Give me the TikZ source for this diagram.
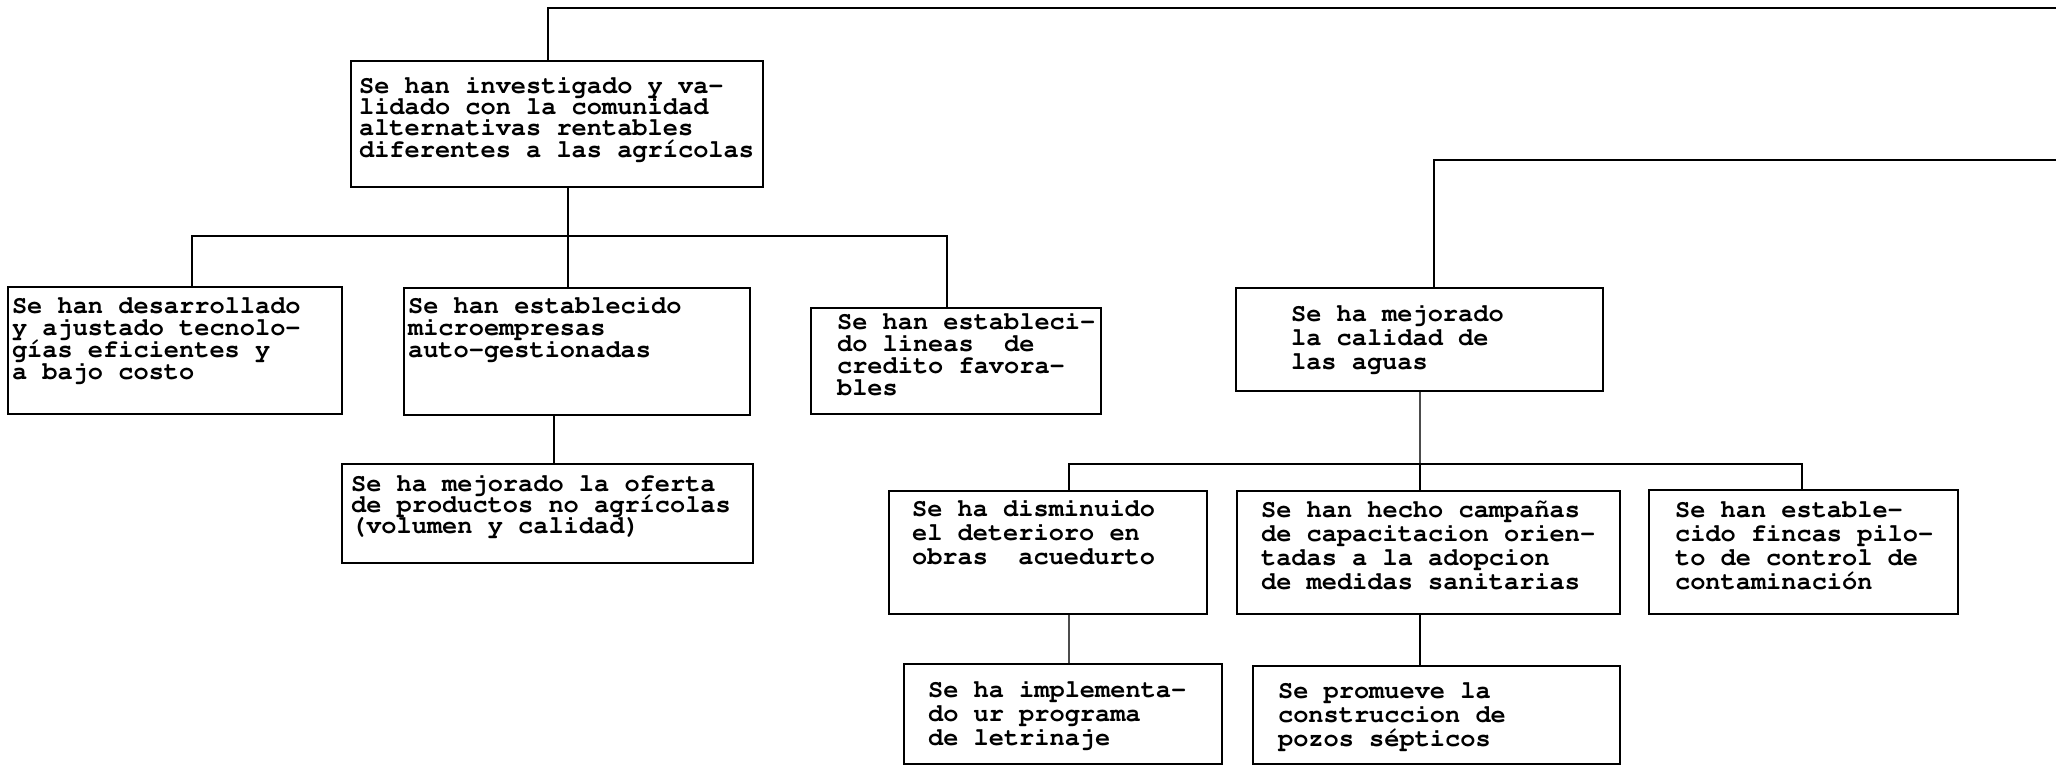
\documentclass[tikz,border=0pt]{standalone}
\usepackage[T1]{fontenc}
\usepackage{tikz}

\begin{document}
\begin{tikzpicture}[x=0.01cm, y=-0.01cm,
    caja/.style={draw, line width=0.6pt, anchor=north west, inner sep=0pt, align=flush left,
      font=\fontfamily{pcr}\bfseries\fontsize{7.2}{6.83}\selectfont},
    interlinea/.style={font=\fontfamily{pcr}\bfseries\fontsize{7.2}{#1}\selectfont},
    sangria/.style={execute at begin node={\leftskip=#1\rightskip=-1cm plus 1fil\lineskiplimit=-1cm\relax}},
    linea/.style={line width=0.6pt},
    fina/.style={line width=0.35pt, black!70}]
        \useasboundingbox (0,0) rectangle (2056,766);

        % Alternativas rentables
        \node[caja, interlinea=6.1pt, sangria=0.08cm, text width=4.12cm, text height=0.32cm, text depth=0.94cm] (alternativas) at (350,60)
            {Se han investigado y va-\\lidado con la comunidad\\alternativas rentables\\diferentes a las agrícolas};
        \node[caja, interlinea=6.26pt, sangria=0.04cm, text width=3.34cm, text height=0.26cm, text depth=1.01cm] (tecnologias) at (7,286)
            {Se han desarrollado\\y ajustado tecnolo-\\gías eficientes y\\a bajo costo};
        \node[caja, interlinea=6.26pt, sangria=0.04cm, text width=3.46cm, text height=0.25cm, text depth=1.02cm] (microempresas) at (403,287)
            {Se han establecido\\microempresas\\auto-gestionadas};
        \node[caja, interlinea=6.26pt, sangria=0.26cm, text width=2.90cm, text height=0.21cm, text depth=0.85cm] (credito) at (810,307)
            {Se han estableci-\\do lineas~ de\\credito favora-\\bles};
        \node[caja, interlinea=5.98pt, sangria=0.09cm, text width=4.11cm, text height=0.27cm, text depth=0.72cm] (oferta) at (341,463)
            {Se ha mejorado la oferta\\de productos no agrícolas\\(volumen y calidad)};

        % Calidad de las aguas
        \node[caja, sangria=0.55cm, text width=3.67cm, text height=0.33cm, text depth=0.70cm] (aguas) at (1235,287)
            {Se ha mejorado\\la calidad de\\las aguas};
        \node[caja, sangria=0.23cm, text width=3.18cm, text height=0.25cm, text depth=0.98cm] (acueducto) at (888,490)
            {Se ha disminuido\\el deterioro en\\obras~ acuedurto};
        \node[caja, sangria=0.24cm, text width=3.83cm, text height=0.26cm, text depth=0.97cm] (campanas) at (1236,490)
            {Se han hecho campañas\\de capacitacion orien-\\tadas a la adopcion\\de medidas sanitarias};
        \node[caja, sangria=0.26cm, text width=3.09cm, text height=0.27cm, text depth=0.97cm] (fincas) at (1648,489)
            {Se han estable-\\cido fincas pilo-\\to de control de\\contaminación};
        \node[caja, sangria=0.24cm, text width=3.18cm, text height=0.33cm, text depth=0.67cm] (letrinaje) at (903,663)
            {Se ha implementa-\\do ur programa\\de letrinaje};
        \node[caja, sangria=0.25cm, text width=3.67cm, text height=0.32cm, text depth=0.66cm] (pozos) at (1252,665)
            {Se promueve la\\construccion de\\pozos sépticos};

        % Lineas superiores
        \coordinate (t1) at (548,8);
        \coordinate (t1fin) at (2056,8);
        \coordinate (t2) at (1434,160);
        \coordinate (t2fin) at (2056,160);
        \draw[linea] (t1fin) -- (t1) -- (alternativas.north -| t1);
        \draw[linea] (t2fin) -- (t2) -- (aguas.north -| t2);

        % Ramas izquierda
        \coordinate (k1) at (192,236);
        \coordinate (k2) at (568,236);
        \coordinate (k3) at (947,236);
        \coordinate (k4) at (554,440);
        \draw[linea] (alternativas.south -| k2) -- (k2);
        \draw[linea] (tecnologias.north -| k1) -- (k1) -- (k3) -- (credito.north -| k3);
        \draw[linea] (k2) -- (microempresas.north -| k2);
        \draw[linea] (microempresas.south -| k4) -- (oferta.north -| k4);

        % Ramas derecha
        \coordinate (k5) at (1069,464);
        \coordinate (k6) at (1420,464);
        \coordinate (k7) at (1802,464);
        \draw[fina] (aguas.south -| k6) -- (k6);
        \draw[linea] (acueducto.north -| k5) -- (k5) -- (k7) -- (fincas.north -| k7);
        \draw[linea] (k6) -- (campanas.north -| k6);
        \draw[fina] (acueducto.south -| k5) -- (letrinaje.north -| k5);
        \draw[linea] (campanas.south -| k6) -- (pozos.north -| k6);

    \end{tikzpicture}
\end{document}
